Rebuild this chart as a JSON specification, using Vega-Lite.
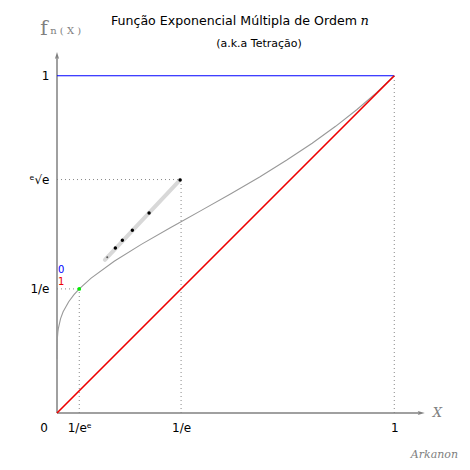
{
  "$schema": "https://vega.github.io/schema/vega-lite/v6.json",
  "width": 371,
  "height": 371,
  "autosize": "none",
  "padding": {"left": 57, "top": 42, "right": 42, "bottom": 57},
  "background": "white",
  "config": {"view": {"stroke": null}},
  "datasets": {
    "curve": [
      {"x": 0.0000106, "y": 0.16}, {"x": 0.00003, "y": 0.17}, {"x": 0.000073, "y": 0.18}, {"x": 0.00032, "y": 0.2},
      {"x": 0.001026, "y": 0.22}, {"x": 0.00262, "y": 0.24}, {"x": 0.0039, "y": 0.25}, {"x": 0.0106, "y": 0.28},
      {"x": 0.0181, "y": 0.3}, {"x": 0.0347, "y": 0.33}, {"x": 0.0498, "y": 0.35}, {"x": 0.066, "y": 0.3679},
      {"x": 0.1012, "y": 0.4}, {"x": 0.1696, "y": 0.45}, {"x": 0.25, "y": 0.5}, {"x": 0.3372, "y": 0.55},
      {"x": 0.3679, "y": 0.5671}, {"x": 0.4268, "y": 0.6}, {"x": 0.5155, "y": 0.65}, {"x": 0.6008, "y": 0.7},
      {"x": 0.6814, "y": 0.75}, {"x": 0.7566, "y": 0.8}, {"x": 0.826, "y": 0.85}, {"x": 0.8895, "y": 0.9},
      {"x": 0.9474, "y": 0.95}, {"x": 1, "y": 1}
    ],
    "guides": [
      {"x": 0, "y": 0.6922, "x2": 0.3679, "y2": 0.6922},
      {"x": 0.3679, "y": 0, "x2": 0.3679, "y2": 0.6922},
      {"x": 0, "y": 0.3679, "x2": 0.066, "y2": 0.3679},
      {"x": 0.066, "y": 0, "x2": 0.066, "y2": 0.3679},
      {"x": 1, "y": 0, "x2": 1, "y2": 1}
    ],
    "axes": [
      {"x": 0, "y": 0, "x2": 1.075, "y2": 0},
      {"x": 0, "y": 0, "x2": 0, "y2": 1.055}
    ],
    "order0": [{"x": 0, "y": 1}, {"x": 1, "y": 1}],
    "order1": [{"x": 0, "y": 0}, {"x": 1, "y": 1}],
    "seq": [{"x": 0.142, "y": 0.454}, {"x": 0.365, "y": 0.691}],
    "dots": [
      {"x": 0.365, "y": 0.691}, {"x": 0.273, "y": 0.593}, {"x": 0.2234, "y": 0.542},
      {"x": 0.1938, "y": 0.5125}, {"x": 0.173, "y": 0.489}
    ]
  },
  "layer": [
    {
      "data": {"name": "guides"},
      "mark": {"type": "rule", "color": "#888888", "strokeDash": [1, 3], "strokeWidth": 1},
      "encoding": {
        "x": {"field": "x", "type": "quantitative", "scale": {"domain": [0, 1.1], "nice": false, "zero": false},
          "axis": {"domain": false, "ticks": false, "grid": false, "title": null, "values": [0.06599, 0.36788, 1],
            "labelExpr": "datum.value < 0.1 ? '1/eᵉ' : datum.value < 0.5 ? '1/e' : '1'",
            "labelFont": "DejaVu Sans", "labelFontSize": 12, "labelColor": "black", "labelPadding": 9}},
        "y": {"field": "y", "type": "quantitative", "scale": {"domain": [0, 1.1], "nice": false, "zero": false},
          "axis": {"domain": false, "ticks": false, "grid": false, "title": null, "values": [0.36788, 0.6922, 1],
            "labelExpr": "datum.value < 0.5 ? '1/e' : datum.value < 0.9 ? 'ᵉ√e' : '1'",
            "labelFont": "DejaVu Sans", "labelFontSize": 12, "labelColor": "black", "labelPadding": 8}},
        "x2": {"field": "x2"},
        "y2": {"field": "y2"}
      }
    },
    {
      "data": {"name": "axes"},
      "mark": {"type": "rule", "color": "#808080", "strokeWidth": 1.5},
      "encoding": {
        "x": {"field": "x", "type": "quantitative"},
        "y": {"field": "y", "type": "quantitative"},
        "x2": {"field": "x2"},
        "y2": {"field": "y2"}
      }
    },
    {
      "data": {"values": [{"x": 1.08, "y": 0}]},
      "mark": {"type": "point", "shape": "M-1,-0.6L1,0L-1,0.6L-0.6,0Z", "filled": true, "color": "#808080", "opacity": 1, "size": 50},
      "encoding": {"x": {"field": "x", "type": "quantitative"}, "y": {"field": "y", "type": "quantitative"}}
    },
    {
      "data": {"values": [{"x": 0, "y": 1.06}]},
      "mark": {"type": "point", "shape": "M-0.6,1L0,-1L0.6,1L0,0.6Z", "filled": true, "color": "#808080", "opacity": 1, "size": 50},
      "encoding": {"x": {"field": "x", "type": "quantitative"}, "y": {"field": "y", "type": "quantitative"}}
    },
    {
      "data": {"name": "order0"},
      "mark": {"type": "line", "color": "#0000ff", "strokeWidth": 1.2},
      "encoding": {"x": {"field": "x", "type": "quantitative"}, "y": {"field": "y", "type": "quantitative"}}
    },
    {
      "data": {"name": "curve"},
      "mark": {"type": "line", "color": "#999999", "strokeWidth": 1.1},
      "encoding": {"x": {"field": "x", "type": "quantitative"}, "y": {"field": "y", "type": "quantitative"}}
    },
    {
      "data": {"name": "order1"},
      "mark": {"type": "line", "color": "#ee0000", "strokeWidth": 1.6},
      "encoding": {"x": {"field": "x", "type": "quantitative"}, "y": {"field": "y", "type": "quantitative"}}
    },
    {
      "data": {"name": "seq"},
      "mark": {"type": "line", "color": "#d8d8d8", "strokeWidth": 4, "strokeCap": "round"},
      "encoding": {"x": {"field": "x", "type": "quantitative"}, "y": {"field": "y", "type": "quantitative"}}
    },
    {
      "data": {"name": "dots"},
      "mark": {"type": "circle", "color": "black", "opacity": 1, "size": 12},
      "encoding": {"x": {"field": "x", "type": "quantitative"}, "y": {"field": "y", "type": "quantitative"}}
    },
    {
      "data": {"values": [{"x": 0.149, "y": 0.462}]},
      "mark": {"type": "circle", "color": "#555555", "opacity": 1, "size": 4},
      "encoding": {"x": {"field": "x", "type": "quantitative"}, "y": {"field": "y", "type": "quantitative"}}
    },
    {
      "data": {"values": [{"x": 0.066, "y": 0.3679}]},
      "mark": {"type": "circle", "color": "#00ee00", "opacity": 1, "size": 14},
      "encoding": {"x": {"field": "x", "type": "quantitative"}, "y": {"field": "y", "type": "quantitative"}}
    },
    {
      "data": {"values": [{"x": 0, "y": 0.425, "t": "0"}]},
      "mark": {"type": "text", "color": "#0000ff", "font": "DejaVu Sans", "fontSize": 10, "align": "left", "dx": 1},
      "encoding": {"x": {"field": "x", "type": "quantitative"}, "y": {"field": "y", "type": "quantitative"}, "text": {"field": "t"}}
    },
    {
      "data": {"values": [{"x": 0, "y": 0.389, "t": "1"}]},
      "mark": {"type": "text", "color": "#ee0000", "font": "DejaVu Sans", "fontSize": 10, "align": "left", "dx": 1},
      "encoding": {"x": {"field": "x", "type": "quantitative"}, "y": {"field": "y", "type": "quantitative"}, "text": {"field": "t"}}
    },
    {
      "data": {"values": [{"x": 0, "y": 0, "t": "0"}]},
      "mark": {"type": "text", "color": "black", "font": "DejaVu Sans", "fontSize": 12, "align": "center", "dx": -13, "dy": 15},
      "encoding": {"x": {"field": "x", "type": "quantitative"}, "y": {"field": "y", "type": "quantitative"}, "text": {"field": "t"}}
    },
    {
      "data": {"values": [{"x": 0.16, "y": 1.149, "t": "Função Exponencial Múltipla de Ordem"}]},
      "mark": {"type": "text", "color": "black", "font": "DejaVu Sans", "fontSize": 12.6, "align": "left", "baseline": "alphabetic"},
      "encoding": {"x": {"field": "x", "type": "quantitative"}, "y": {"field": "y", "type": "quantitative"}, "text": {"field": "t"}}
    },
    {
      "data": {"values": [{"x": 0.9, "y": 1.149, "t": "n"}]},
      "mark": {"type": "text", "color": "black", "font": "DejaVu Serif", "fontStyle": "italic", "fontSize": 13, "align": "left", "baseline": "alphabetic"},
      "encoding": {"x": {"field": "x", "type": "quantitative"}, "y": {"field": "y", "type": "quantitative"}, "text": {"field": "t"}}
    },
    {
      "data": {"values": [{"x": 0.599, "y": 1.095, "t": "(a.k.a Tetração)"}]},
      "mark": {"type": "text", "color": "black", "font": "DejaVu Sans", "fontSize": 11, "align": "center", "baseline": "middle"},
      "encoding": {"x": {"field": "x", "type": "quantitative"}, "y": {"field": "y", "type": "quantitative"}, "text": {"field": "t"}}
    },
    {
      "data": {"values": [{"x": -0.039, "y": 1.139, "t": "f"}]},
      "mark": {"type": "text", "color": "#808080", "font": "DejaVu Serif", "fontSize": 20, "align": "center", "baseline": "middle"},
      "encoding": {"x": {"field": "x", "type": "quantitative"}, "y": {"field": "y", "type": "quantitative"}, "text": {"field": "t"}}
    },
    {
      "data": {"values": [{"x": -0.02, "y": 1.134, "t": "n ( X )"}]},
      "mark": {"type": "text", "color": "#808080", "font": "DejaVu Serif", "fontSize": 10, "align": "left", "baseline": "middle"},
      "encoding": {"x": {"field": "x", "type": "quantitative"}, "y": {"field": "y", "type": "quantitative"}, "text": {"field": "t"}}
    },
    {
      "data": {"values": [{"x": 1.128, "y": 0, "t": "X"}]},
      "mark": {"type": "text", "color": "#808080", "font": "DejaVu Serif", "fontStyle": "italic", "fontSize": 13, "align": "center", "baseline": "middle"},
      "encoding": {"x": {"field": "x", "type": "quantitative"}, "y": {"field": "y", "type": "quantitative"}, "text": {"field": "t"}}
    },
    {
      "data": {"values": [{"x": 1.119, "y": -0.125, "t": "Arkanon"}]},
      "mark": {"type": "text", "color": "#808080", "font": "DejaVu Serif", "fontStyle": "italic", "fontSize": 11, "align": "center", "baseline": "middle"},
      "encoding": {"x": {"field": "x", "type": "quantitative"}, "y": {"field": "y", "type": "quantitative"}, "text": {"field": "t"}}
    }
  ]
}
